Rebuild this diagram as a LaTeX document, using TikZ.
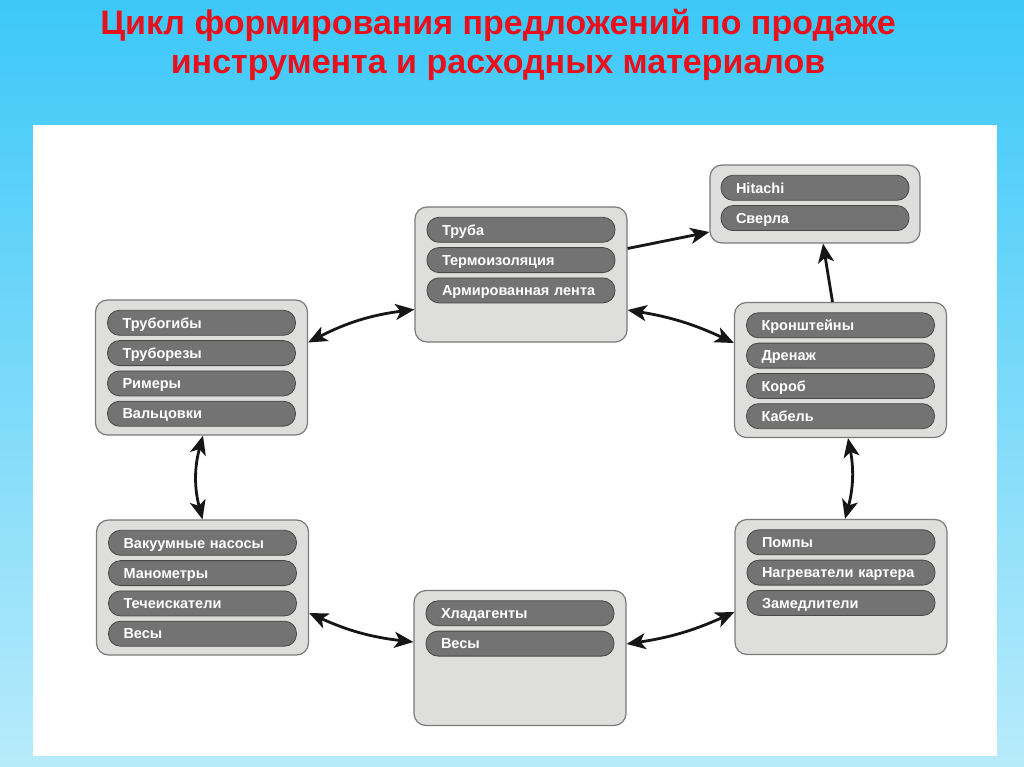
\documentclass[tikz,border=0pt]{standalone}
\usepackage{fontspec}
\setmainfont{Liberation Sans}
\usetikzlibrary{positioning,arrows.meta}

\definecolor{skytop}{HTML}{3CC8F8}
\definecolor{skybottom}{HTML}{B8EBFB}
\definecolor{titlered}{HTML}{E8101A}
\definecolor{panelfill}{HTML}{DEDEDD}
\definecolor{panelline}{HTML}{7A7A7A}
\definecolor{pillfill}{HTML}{737373}
\definecolor{pillline}{HTML}{474747}
\definecolor{arrowink}{HTML}{161616}

\begin{document}
\begin{tikzpicture}[x=1pt, y=-1pt, every node/.style={font=\bfseries}]
            \tikzstyle{panel}=[draw=panelline, fill=panelfill, line width=1.2pt, rounded corners=12pt, minimum width=212pt, minimum height=135pt, inner sep=0pt]
            \tikzstyle{pill}=[draw=pillline, fill=pillfill, line width=0.8pt, rounded corners=12pt, minimum height=25pt, text height=10.5pt, text depth=0pt, text width=158pt, inner xsep=15pt, inner ysep=0pt, align=left, text=white, font=\bfseries\fontsize{14.5}{16}\selectfont]
            \tikzstyle{link}=[line width=2.8pt, arrowink, {Stealth[length=19pt,width=16pt,inset=5pt]}-{Stealth[length=19pt,width=16pt,inset=5pt]}]
            \tikzstyle{oneway}=[line width=2.8pt, arrowink, -{Stealth[length=19pt,width=16pt,inset=5pt]}]
            \useasboundingbox (0,0) rectangle (1024,767);
            \shade[top color=skytop, bottom color=skybottom] (0,0) rectangle (1024,767);
            \fill[white] (33,125) rectangle (997,756);
            \node[anchor=base, text=titlered, font=\bfseries\fontsize{34}{40}\selectfont] (title1) at (498,35) {Цикл формирования предложений по продаже};
            \node[anchor=base, text=titlered, font=\bfseries\fontsize{34}{40}\selectfont] (title2) at (498,74) {инструмента и расходных материалов};
            % panels
            \node[panel] (tube) at (521,274.5) {};
            \node[panel, minimum width=210pt, minimum height=78pt] (hitachi) at (815,204) {};
            \node[panel] (bender) at (201.5,367.5) {};
            \node[panel] (bracket) at (840.5,370) {};
            \node[panel] (vacuum) at (202.5,587.5) {};
            \node[panel] (refrig) at (520,658) {};
            \node[panel] (pump) at (841,587) {};
            % items
            \node[pill, below=10.5pt of tube.north] (tube1) {Труба};
            \node[pill, below=4.5pt of tube1] (tube2) {Термоизоляция};
            \node[pill, below=4.5pt of tube2] (tube3) {Армированная лента};
            \node[pill, below=10.5pt of hitachi.north] (hitachi1) {Hitachi};
            \node[pill, below=4.5pt of hitachi1] (hitachi2) {Сверла};
            \node[pill, below=10.5pt of bender.north] (bender1) {Трубогибы};
            \node[pill, below=4.5pt of bender1] (bender2) {Труборезы};
            \node[pill, below=4.5pt of bender2] (bender3) {Римеры};
            \node[pill, below=4.5pt of bender3] (bender4) {Вальцовки};
            \node[pill, below=10.5pt of bracket.north] (bracket1) {Кронштейны};
            \node[pill, below=4.5pt of bracket1] (bracket2) {Дренаж};
            \node[pill, below=4.5pt of bracket2] (bracket3) {Короб};
            \node[pill, below=4.5pt of bracket3] (bracket4) {Кабель};
            \node[pill, below=10.5pt of vacuum.north] (vacuum1) {Вакуумные насосы};
            \node[pill, below=4.5pt of vacuum1] (vacuum2) {Манометры};
            \node[pill, below=4.5pt of vacuum2] (vacuum3) {Течеискатели};
            \node[pill, below=4.5pt of vacuum3] (vacuum4) {Весы};
            \node[pill, below=10.5pt of refrig.north] (refrig1) {Хладагенты};
            \node[pill, below=4.5pt of refrig1] (refrig2) {Весы};
            \node[pill, below=10.5pt of pump.north] (pump1) {Помпы};
            \node[pill, below=4.5pt of pump1] (pump2) {Нагреватели картера};
            \node[pill, below=4.5pt of pump2] (pump3) {Замедлители};
            % arrows
            \draw[link] ([yshift=25pt]bender.east) to[bend left=10] ([yshift=-35pt]tube.west);
            \draw[oneway] ([yshift=26pt]tube.east) -- ([yshift=-28pt]hitachi.west);
            \draw[link] ([yshift=-35.5pt]tube.east) to[bend left=8] ([yshift=27pt]bracket.west);
            \draw[oneway] ([xshift=-8pt]bracket.north) -- ([xshift=8pt]hitachi.south);
            \draw[link] ([xshift=1.5pt]bender.south) to[bend right=15] (vacuum.north);
            \draw[link] ([xshift=7.5pt]bracket.south) to[bend left=13] ([xshift=4pt]pump.north);
            \draw[link] ([yshift=-25.5pt]vacuum.east) to[bend right=9] ([yshift=16pt]refrig.west);
            \draw[link] ([yshift=14pt]refrig.east) to[bend right=8] ([yshift=-25pt]pump.west);
        \end{tikzpicture}
\end{document}
